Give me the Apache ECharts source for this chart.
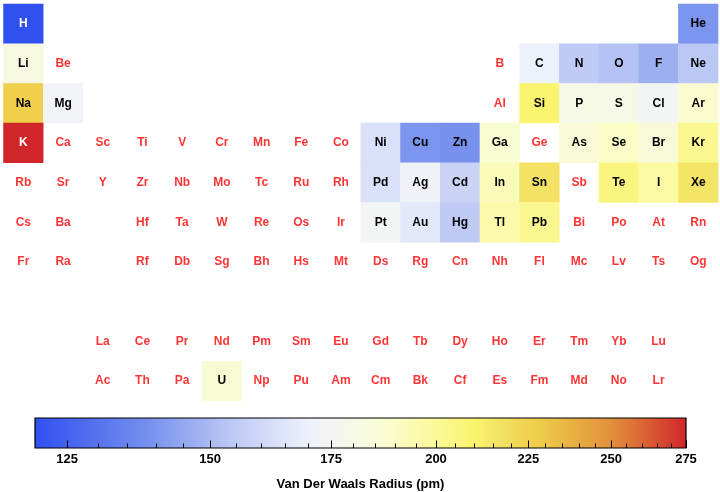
<!DOCTYPE html>
<html>
<head>
<meta charset="utf-8">
<script src="https://cdn.jsdelivr.net/npm/echarts@6/dist/echarts.min.js"></script>
<style>
html,body{margin:0;padding:0;background:#fff;}
#chart{width:720px;height:492px;}
</style>
</head>
<body>
<div id="chart"></div>
<script>
// ---- data ----
// period table layout rows (0-based row index), each entry [symbol, column (1-18)]
const rowsLayout = [
  [['H',1],['He',18]],
  [['Li',1],['Be',2],['B',13],['C',14],['N',15],['O',16],['F',17],['Ne',18]],
  [['Na',1],['Mg',2],['Al',13],['Si',14],['P',15],['S',16],['Cl',17],['Ar',18]],
  [['K',1],['Ca',2],['Sc',3],['Ti',4],['V',5],['Cr',6],['Mn',7],['Fe',8],['Co',9],['Ni',10],['Cu',11],['Zn',12],['Ga',13],['Ge',14],['As',15],['Se',16],['Br',17],['Kr',18]],
  [['Rb',1],['Sr',2],['Y',3],['Zr',4],['Nb',5],['Mo',6],['Tc',7],['Ru',8],['Rh',9],['Pd',10],['Ag',11],['Cd',12],['In',13],['Sn',14],['Sb',15],['Te',16],['I',17],['Xe',18]],
  [['Cs',1],['Ba',2],['Hf',4],['Ta',5],['W',6],['Re',7],['Os',8],['Ir',9],['Pt',10],['Au',11],['Hg',12],['Tl',13],['Pb',14],['Bi',15],['Po',16],['At',17],['Rn',18]],
  [['Fr',1],['Ra',2],['Rf',4],['Db',5],['Sg',6],['Bh',7],['Hs',8],['Mt',9],['Ds',10],['Rg',11],['Cn',12],['Nh',13],['Fl',14],['Mc',15],['Lv',16],['Ts',17],['Og',18]],
  [],
  [['La',3],['Ce',4],['Pr',5],['Nd',6],['Pm',7],['Sm',8],['Eu',9],['Gd',10],['Tb',11],['Dy',12],['Ho',13],['Er',14],['Tm',15],['Yb',16],['Lu',17]],
  [['Ac',3],['Th',4],['Pa',5],['U',6],['Np',7],['Pu',8],['Am',9],['Cm',10],['Bk',11],['Cf',12],['Es',13],['Fm',14],['Md',15],['No',16],['Lr',17]]
];
// Van der Waals radius (pm); elements absent have no value
const vdwSymbols = ['H','He','Li','C','N','O','F','Ne','Na','Mg','Si','P','S','Cl','Ar','K','Ni','Cu','Zn','Ga','As','Se','Br','Kr','Pd','Ag','Cd','In','Sn','Te','I','Xe','Pt','Au','Hg','Tl','Pb','U'];
const vdwRadius  = [120, 140, 182, 170, 155, 152, 147, 154, 227, 173, 210, 180, 180, 175, 188, 275, 163, 140, 139, 187, 185, 190, 185, 202, 163, 172, 158, 193, 217, 206, 198, 216, 175, 166, 155, 196, 202, 186];
const whiteTextSymbols = ['H','K'];
const colorMin = 120, colorMax = 275;
const majorTicks = [125, 150, 175, 200, 225, 250, 275];
const minorTickStep = 5;
const colorTitle = 'Van Der Waals Radius (pm)';

// ---- colour map (position in log space 0..1) ----
const cmapStops = [
  [0, '#3050f0'],[0.177,'#7791ee'],[0.309,'#c0cbf5'],[0.42,'#edf1fc'],[0.455,'#f4f5f4'],
  [0.489,'#f5f8e4'],[0.542,'#fafccf'],[0.604,'#fbf9a2'],[0.652,'#fbf57e'],[0.675,'#faf46c'],
  [0.714,'#f2e264'],[0.768,'#efcf4a'],[0.885,'#e2903c'],[1,'#d0262a']
];
function hex2rgb(h){return [parseInt(h.substr(1,2),16),parseInt(h.substr(3,2),16),parseInt(h.substr(5,2),16)];}
function cmap(t){
  for(let i=1;i<cmapStops.length;i++){
    if(t<=cmapStops[i][0]){
      const [t0,c0]=cmapStops[i-1],[t1,c1]=cmapStops[i];
      const f=(t-t0)/(t1-t0), a=hex2rgb(c0), b=hex2rgb(c1);
      return 'rgb('+a.map((v,k)=>Math.round(v+(b[k]-v)*f)).join(',')+')';
    }
  }
  return cmapStops[cmapStops.length-1][1];
}
const nSamples = 101;
const colorList = [];
for(let i=0;i<nSamples;i++) colorList.push(cmap(i/(nSamples-1)));

// ---- build series data ----
const heatData = [], missingData = [];
rowsLayout.forEach((row, r) => {
  row.forEach(([sym, col]) => {
    const k = vdwSymbols.indexOf(sym);
    if (k >= 0) {
      heatData.push({name: sym, value: [col-1, r, Math.log(vdwRadius[k])],
        label: {color: whiteTextSymbols.includes(sym) ? '#ffffff' : '#000000'}});
    } else {
      missingData.push({name: sym, value: [col-1, r]});
    }
  });
});
const xCats = Array.from({length:18},(_,i)=>String(i+1));
const yCats = Array.from({length:10},(_,i)=>String(i));
const lnMin = Math.log(colorMin), lnMax = Math.log(colorMax);
const minorTicks = [];
for (let v = majorTicks[0]; v < colorMax; v += minorTickStep) if (!majorTicks.includes(v)) minorTicks.push(v);

const FONT = '"Liberation Sans", Arial, Helvetica, sans-serif';
const chart = echarts.init(document.getElementById('chart'), null, {renderer:'canvas'});
chart.setOption({
  animation: false,
  backgroundColor: '#ffffff',
  textStyle: {fontFamily: FONT},
  grid: [
    {left: 3.5, width: 714.6, top: 4, height: 397, containLabel: false},
    {left: 35, width: 651, top: 418, height: 33, show: true, borderColor: '#000', borderWidth: 1.2,
     backgroundColor: new echarts.graphic.LinearGradient(0,0,1,0,
       colorList.map((c,i)=>({offset: i/(nSamples-1), color: c})))}
  ],
  xAxis: [
    {type:'category', data:xCats, gridIndex:0, show:false},
    {type:'value', gridIndex:1, min:lnMin, max:lnMax, position:'bottom',
     axisLine:{show:false}, splitLine:{show:false},
     axisTick:{show:true, inside:true, length:7.5, lineStyle:{color:'#000', width:1}, customValues: majorTicks.map(Math.log)},
     axisLabel:{show:true, margin:5, color:'#000', fontWeight:'bold', fontSize:13, fontFamily:FONT,
       customValues: majorTicks.map(Math.log), formatter: v => String(Math.round(Math.exp(v)))},
     name: colorTitle, nameLocation:'middle', nameGap:30,
     nameTextStyle:{color:'#000', fontWeight:'bold', fontSize:13, fontFamily:FONT}},
    {type:'value', gridIndex:1, min:lnMin, max:lnMax, position:'bottom',
     axisLine:{show:false}, splitLine:{show:false}, axisLabel:{show:false},
     axisTick:{show:true, inside:true, length:4.5, lineStyle:{color:'#000', width:1}, customValues: minorTicks.map(Math.log)}}
  ],
  yAxis: [
    {type:'category', data:yCats, gridIndex:0, inverse:true, show:false},
    {type:'value', gridIndex:1, show:false, min:0, max:1}
  ],
  visualMap: {
    show:false, type:'continuous', seriesIndex:0, dimension:2,
    min:lnMin, max:lnMax, inRange:{color: colorList}
  },
  series: [
    {type:'heatmap', xAxisIndex:0, yAxisIndex:0, data: heatData,
     itemStyle:{borderWidth:0},
     label:{show:true, formatter:'{b}', fontWeight:'bold', fontSize:12, fontFamily:FONT},
     emphasis:{disabled:true}},
    {type:'scatter', xAxisIndex:0, yAxisIndex:0, data: missingData, symbolSize:0,
     label:{show:true, position:'inside', formatter:'{b}', color:'#ff0000', fontWeight:'bold', fontSize:12, fontFamily:FONT},
     emphasis:{disabled:true}, silent:true}
  ]
});
</script>
</body>
</html>
